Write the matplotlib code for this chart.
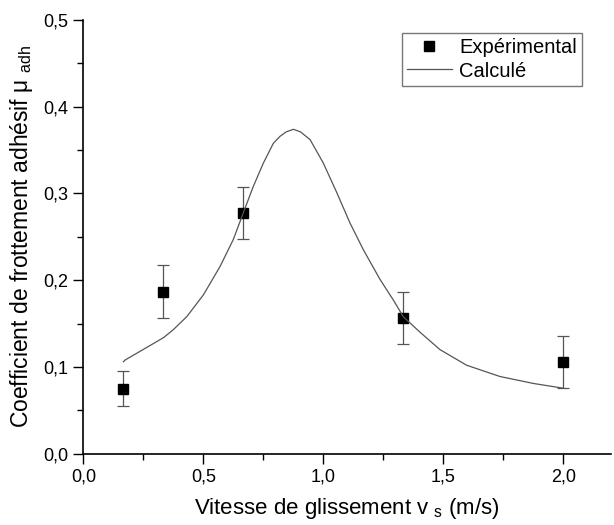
import matplotlib
matplotlib.use("Agg")
import matplotlib.pyplot as plt
from matplotlib.ticker import MultipleLocator, FuncFormatter

plt.rcParams['font.family'] = ['Liberation Sans', 'DejaVu Sans']
plt.rcParams['mathtext.default'] = 'regular'

# experimental points
v_exp = [0.167, 0.333, 0.667, 1.333, 2.0]
mu_exp = [0.075, 0.187, 0.277, 0.156, 0.106]
mu_err = [0.02, 0.03, 0.03, 0.03, 0.03]

# calculated curve
v_calc = [0.167, 0.174, 0.23, 0.292, 0.335, 0.375, 0.431, 0.5, 0.57, 0.625,
          0.667, 0.708, 0.75, 0.792, 0.82, 0.845, 0.875, 0.905, 0.945, 1.0,
          1.056, 1.111, 1.167, 1.236, 1.292, 1.333, 1.403, 1.486, 1.597,
          1.736, 1.875, 2.0]
mu_calc = [0.106, 0.108, 0.117, 0.127, 0.134, 0.143, 0.158, 0.183, 0.216, 0.247,
           0.278, 0.308, 0.335, 0.358, 0.366, 0.371, 0.374, 0.371, 0.362, 0.335,
           0.301, 0.266, 0.235, 0.201, 0.177, 0.158, 0.140, 0.120, 0.102,
           0.089, 0.081, 0.0755]

fig = plt.figure(figsize=(6.14, 5.25), dpi=100)
ax = fig.add_axes([0.1357, 0.1358, 0.86, 0.8261])

ax.errorbar(v_exp, mu_exp, yerr=mu_err, fmt='none', ecolor='#555555',
            elinewidth=0.9, capsize=4, capthick=0.9)
ax.plot(v_exp, mu_exp, 's', color='black', ms=7, label='Expérimental')
ax.plot(v_calc, mu_calc, color='#555555', lw=0.9, label='Calculé')

ax.set_xlim(0, 2.2)
ax.set_ylim(0, 0.5)
ax.xaxis.set_major_locator(MultipleLocator(0.5))
ax.xaxis.set_minor_locator(MultipleLocator(0.25))
ax.yaxis.set_major_locator(MultipleLocator(0.1))
ax.yaxis.set_minor_locator(MultipleLocator(0.05))
comma = FuncFormatter(lambda v, p: f"{v:.1f}".replace('.', ','))
ax.xaxis.set_major_formatter(comma)
ax.yaxis.set_major_formatter(comma)
ax.tick_params(which='major', direction='out', length=7, width=1, labelsize=13)
ax.tick_params(which='minor', direction='out', length=4, width=1)

for s in ['top', 'right']:
    ax.spines[s].set_visible(False)
for s in ['left', 'bottom']:
    ax.spines[s].set_linewidth(1.2)

ax.set_xlabel(r'Vitesse de glissement v$\;_{s}$ (m/s)', fontsize=16, labelpad=8)
ax.set_ylabel(r'Coefficient de frottement adhésif μ$\;_{adh}$', fontsize=16.5, labelpad=6)

leg = ax.legend(loc='upper right', bbox_to_anchor=(0.944, 0.969),
                borderaxespad=0, fontsize=14.5, fancybox=False,
                edgecolor='#777777', framealpha=1, handlelength=2.25,
                handletextpad=0.35, borderpad=0.25, labelspacing=0.2)
leg.get_frame().set_linewidth(1.0)

fig.savefig('out.png', dpi=100)
